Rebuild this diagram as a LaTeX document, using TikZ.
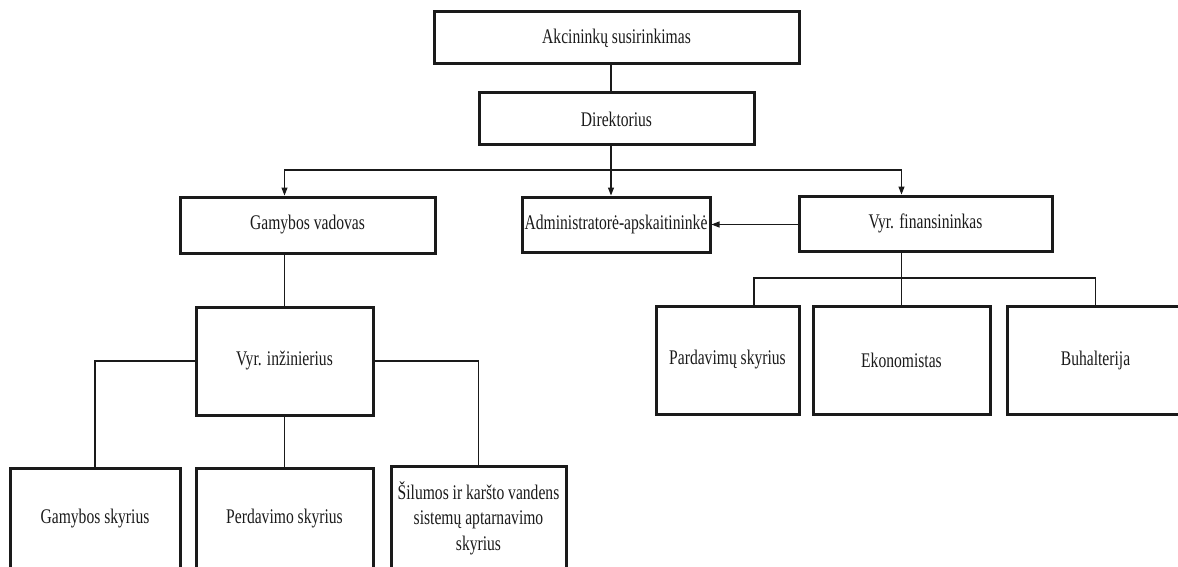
\documentclass[tikz,border=0pt]{standalone}
\usepackage{fontspec}
\setmainfont{Liberation Serif}[FakeStretch=0.75]
\usepackage{tikz}
\usetikzlibrary{arrows.meta, positioning}
\definecolor{InkBlack}{HTML}{1A1A1A}

\begin{document}
\begin{tikzpicture}[x=1pt, y=-1pt,
    orgbox/.style={draw=InkBlack, line width=3pt, align=center, inner sep=2pt,
                   font=\fontsize{20.8}{25.5}\selectfont, text=InkBlack},
    link/.style={draw=InkBlack, line width=1.2pt},
    arrowlink/.style={link, -{Triangle[length=8pt, width=6pt]}}]
    \useasboundingbox (0,0) rectangle (1178,567);
    \clip (0,0) rectangle (1178,567);

    % top levels
    \node[orgbox, minimum width=365pt, minimum height=52pt] (akc) at (616.5,38) {Akcininkų susirinkimas};
    \node[orgbox, minimum width=275pt, minimum height=52pt] (dir) at (616.5,119) {Direktorius};

    % second level
    \node[orgbox, minimum width=255pt, minimum height=56pt] (gv) at (307.5,225) {Gamybos vadovas};
    \node[orgbox, minimum width=188pt, minimum height=55pt, inner sep=0pt] (adm) at (616,224.5) {Administratorė-apskaitininkė};
    \node[orgbox, minimum width=253pt, minimum height=55pt] (vf) at (925.5,223.5) {Vyr. finansininkas};

    % production branch
    \node[orgbox, minimum width=177pt, minimum height=108pt] (vi) at (284.5,361) {Vyr. inžinierius};
    \node[orgbox, minimum width=170pt, minimum height=102pt] (gs) at (95,519) {Gamybos skyrius};
    \node[orgbox, minimum width=177pt, minimum height=102pt] (ps) at (284.5,519) {Perdavimo skyrius};
    \node[orgbox, minimum width=175pt, minimum height=104pt, inner sep=0pt] (sil) at (478.5,518) {Šilumos ir karšto vandens\\sistemų aptarnavimo\\skyrius};

    % finance branch
    \node[orgbox, minimum width=143pt, minimum height=108pt, inner sep=0pt] (pard) at (727.5,360) {Pardavimų skyrius};
    \node[orgbox, minimum width=177pt, minimum height=108pt] (eko) at (901.5,360) {Ekonomistas};
    \node[orgbox, minimum width=177pt, minimum height=108pt] (buh) at (1095.5,360) {Buhalterija};

    % connectors
    \coordinate (bus) at (611,170);
    \coordinate (finbus) at (eko.north |- 0,278);
    \draw[link] (akc.south -| bus) -- (dir.north -| bus);
    \draw[link] (dir.south -| bus) -- (bus);
    \draw[arrowlink] (bus) -| (gv.north -| vi.north);
    \draw[arrowlink] (bus) -- (adm.north -| bus);
    \draw[arrowlink] (bus) -| (vf.north -| eko.north);
    \draw[arrowlink] (vf.west |- adm.east) -- (adm.east);

    \draw[link] (gv.south -| vi.north) -- (vi.north);
    \draw[link] (vi.west) -| (gs.north);
    \draw[link] (vi.south) -- (ps.north);
    \draw[link] (vi.east) -| (sil.north);

    \draw[link] (vf.south -| eko.north) -- (eko.north);
    \draw[link] ([xshift=26.5pt]pard.north) |- (finbus) -| (buh.north);
\end{tikzpicture}
\end{document}
